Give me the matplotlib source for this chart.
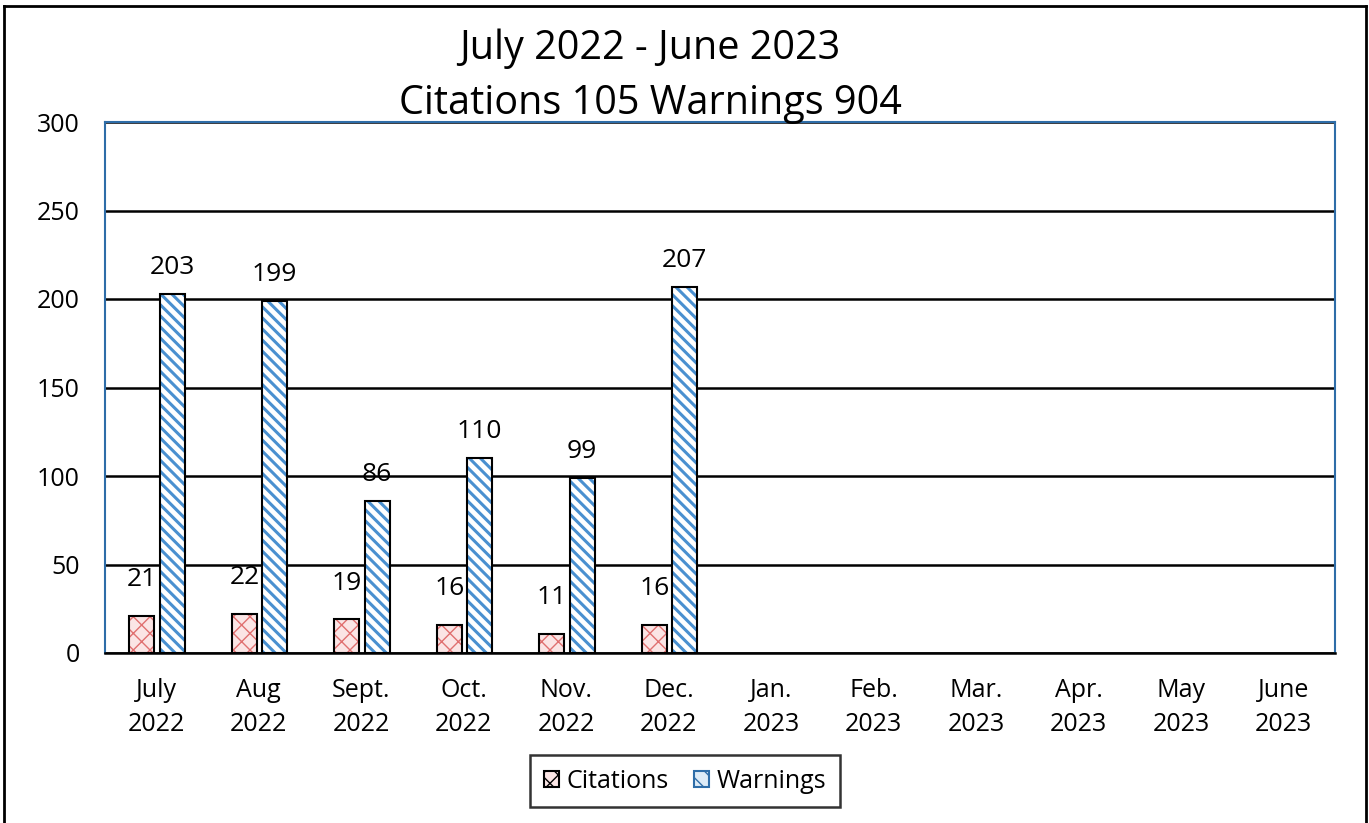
import numpy as np
import matplotlib.pyplot as plt
from matplotlib.patches import Patch
from matplotlib.lines import Line2D

plt.rcParams['font.family'] = ['Open Sans', 'DejaVu Sans']

# data
months = ["July\n2022", "Aug\n2022", "Sept.\n2022", "Oct.\n2022", "Nov.\n2022", "Dec.\n2022",
          "Jan.\n2023", "Feb.\n2023", "Mar.\n2023", "Apr.\n2023", "May\n2023", "June\n2023"]
citations = [21, 22, 19, 16, 11, 16]
warnings_ = [203, 199, 86, 110, 99, 207]

fig = plt.figure(figsize=(13.69, 8.23), dpi=100)
ax = fig.add_axes([105 / 1369, 170 / 823, 1230 / 1369, 531 / 823])

x = np.arange(len(months))
xc = x[:len(citations)]
w = 0.245

# citations: pink fill with red cross hatch, black outline
with plt.rc_context({"hatch.linewidth": 1.0}):
    ax.bar(xc - 0.14, citations, w, color="#FBE5E5", edgecolor="#E07070",
           hatch="xx", linewidth=0, zorder=3)
ax.bar(xc - 0.14, citations, w, fill=False, edgecolor="black", linewidth=1.5, zorder=4)
# warnings: white with blue diagonal hatch
with plt.rc_context({"hatch.linewidth": 2.2}):
    ax.bar(xc + 0.155, warnings_, w, color="white", edgecolor="#4A90D0",
           hatch="\\\\\\", linewidth=0, zorder=3)
ax.bar(xc + 0.155, warnings_, w, fill=False, edgecolor="black", linewidth=1.5, zorder=4)

for xi, v in zip(xc, citations):
    ax.annotate(str(v), (xi - 0.14, v), xytext=(0, 17), textcoords="offset points",
                ha="center", va="bottom", fontsize=19)
for xi, v in zip(xc, warnings_):
    ax.annotate(str(v), (xi + 0.155, v), xytext=(0, 10), textcoords="offset points",
                ha="center", va="bottom", fontsize=19)

ax.set_xlim(-0.5, len(months) - 0.5)
ax.set_ylim(0, 300)
ax.set_yticks(range(0, 301, 50))
ax.set_xticks(x)
ax.set_xticklabels(months, fontsize=18, linespacing=1.45)
ax.tick_params(axis="y", labelsize=18, length=0, pad=18)
ax.tick_params(axis="x", length=0, pad=18)
ax.yaxis.grid(True, color="black", linewidth=1.8)
ax.set_axisbelow(True)
for s in ["left", "top", "right"]:
    ax.spines[s].set_color("#2E6DA8")
    ax.spines[s].set_linewidth(1.5)
ax.spines["bottom"].set_color("black")
ax.spines["bottom"].set_linewidth(1.8)

fig.text(650 / 1369, 1 - 49 / 823, "July 2022 - June 2023", ha="center", va="center", fontsize=28.5)
fig.text(650 / 1369, 1 - 104 / 823, "Citations 105 Warnings 904", ha="center", va="center", fontsize=28.5)

with plt.rc_context({"hatch.linewidth": 1.0}):
    handles = [Patch(facecolor="#FBE5E5", edgecolor="black", hatch="xx", linewidth=1.5),
               Patch(facecolor="#DDEBF7", edgecolor="#2E6DA8", hatch="\\\\", linewidth=1.5)]
leg = fig.legend(handles, ["Citations", "Warnings"], loc="center",
                 bbox_to_anchor=(685 / 1369, 1 - 781 / 823), ncol=2, fontsize=18,
                 frameon=True, fancybox=False, edgecolor="black", handlelength=0.6,
                 handleheight=0.6, handletextpad=0.3, columnspacing=1.0,
                 borderpad=0.55, borderaxespad=0)
leg.get_frame().set_linewidth(1.8)

# outer chart border
for xs, ys in [([4, 4], [0, 817]), ([4, 1366], [817, 817]), ([1366, 1366], [817, 0])]:
    fig.add_artist(Line2D(np.array(xs) / 1369, np.array(ys) / 823, color="black", linewidth=2))

fig.savefig("out.png", dpi=100)
